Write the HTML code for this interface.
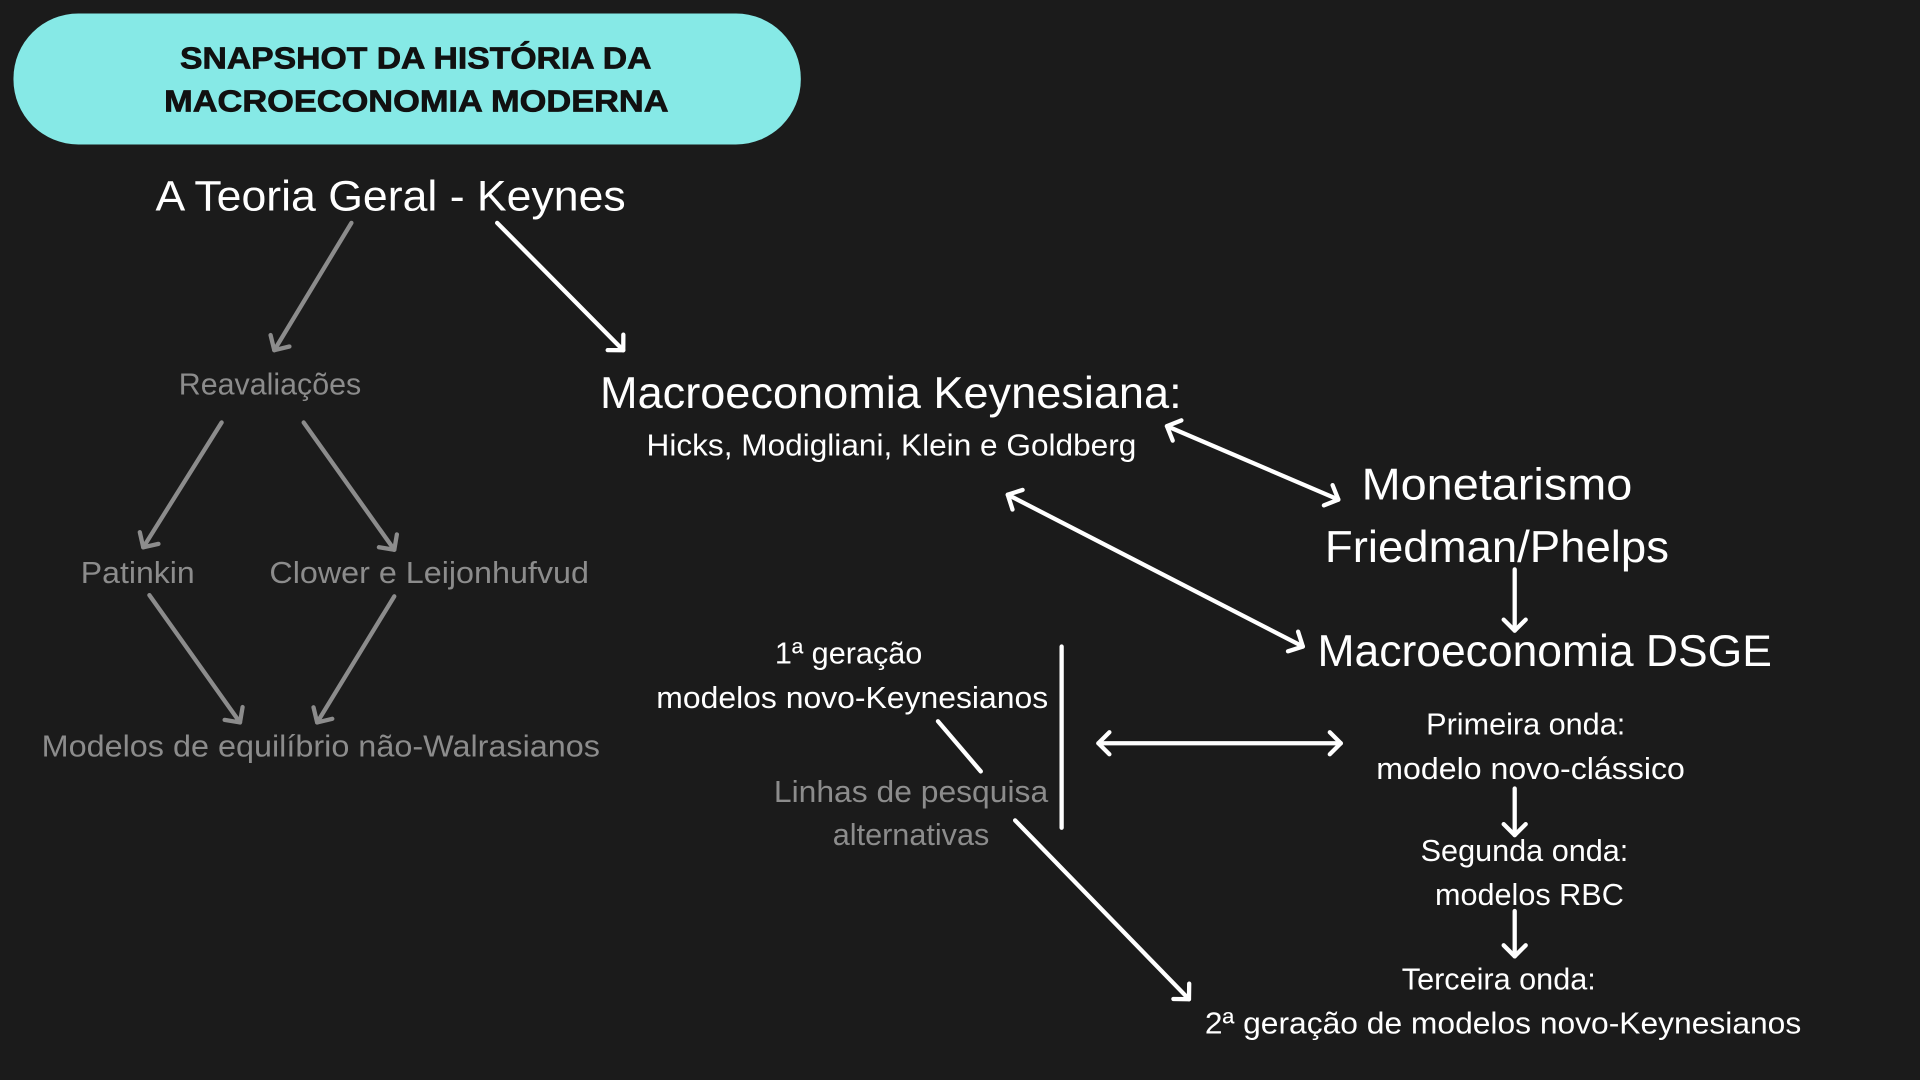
<!DOCTYPE html>
<html><head><meta charset="utf-8"><style>
html,body{margin:0;padding:0;background:#1b1b1b;width:1920px;height:1080px;overflow:hidden}
svg{display:block}
text{font-family:"Liberation Sans",sans-serif}
.w{fill:#fff}.g{fill:#8c8c8c}
</style></head><body>
<svg width="1920" height="1080" viewBox="0 0 1568 882" preserveAspectRatio="none">
<defs>
<marker id="aw" markerUnits="userSpaceOnUse" markerWidth="24" markerHeight="24" refX="12" refY="12" orient="auto-start-reverse" viewBox="0 0 24 24"><path d="M3,3 L12,12 L3,21" fill="none" stroke="#fff" stroke-width="3.5" stroke-linecap="round" stroke-linejoin="round"/></marker>
<marker id="ag" markerUnits="userSpaceOnUse" markerWidth="24" markerHeight="24" refX="12" refY="12" orient="auto" viewBox="0 0 24 24"><path d="M3,3 L12,12 L3,21" fill="none" stroke="#8c8c8c" stroke-width="3.5" stroke-linecap="round" stroke-linejoin="round"/></marker>
</defs>
<rect x="0" y="0" width="1568" height="882" fill="#1b1b1b"/>
<rect x="11" y="11" width="643" height="107" rx="53" fill="#86e9e6"/>
<text x="147" y="56" font-size="25" font-weight="bold" fill="#111" stroke="#111" stroke-width="0.6" textLength="385" lengthAdjust="spacingAndGlyphs">SNAPSHOT DA HISTÓRIA DA</text>
<text x="134" y="91" font-size="25" font-weight="bold" fill="#111" stroke="#111" stroke-width="0.6" textLength="412" lengthAdjust="spacingAndGlyphs">MACROECONOMIA MODERNA</text>

<text x="127" y="172" font-size="35" class="w" textLength="384" lengthAdjust="spacingAndGlyphs">A Teoria Geral - Keynes</text>
<text x="146" y="322" font-size="25" class="g" textLength="149" lengthAdjust="spacingAndGlyphs">Reavaliações</text>
<text x="66" y="476" font-size="25" class="g" textLength="93" lengthAdjust="spacingAndGlyphs">Patinkin</text>
<text x="220" y="476" font-size="25" class="g" textLength="261" lengthAdjust="spacingAndGlyphs">Clower e Leijonhufvud</text>
<text x="34" y="618" font-size="25" class="g" textLength="456" lengthAdjust="spacingAndGlyphs">Modelos de equilíbrio não-Walrasianos</text>

<text x="490" y="333" font-size="36" class="w" textLength="475" lengthAdjust="spacingAndGlyphs">Macroeconomia Keynesiana:</text>
<text x="528" y="372" font-size="25" class="w" textLength="400" lengthAdjust="spacingAndGlyphs">Hicks, Modigliani, Klein e Goldberg</text>
<text x="1112" y="408" font-size="36" class="w" textLength="221" lengthAdjust="spacingAndGlyphs">Monetarismo</text>
<text x="1082" y="459" font-size="36" class="w" textLength="281" lengthAdjust="spacingAndGlyphs">Friedman/Phelps</text>
<text x="1076" y="544" font-size="36" class="w" textLength="371" lengthAdjust="spacingAndGlyphs">Macroeconomia DSGE</text>
<text x="1246" y="600" text-anchor="middle" font-size="25" class="w">Primeira onda:</text>
<text x="1124" y="636" font-size="25" class="w" textLength="252" lengthAdjust="spacingAndGlyphs">modelo novo-clássico</text>
<text x="1245" y="703" text-anchor="middle" font-size="25" class="w">Segunda onda:</text>
<text x="1249" y="739" text-anchor="middle" font-size="25" class="w">modelos RBC</text>
<text x="1224" y="808" text-anchor="middle" font-size="25" class="w">Terceira onda:</text>
<text x="984" y="844" font-size="25" class="w" textLength="487" lengthAdjust="spacingAndGlyphs">2ª geração de modelos novo-Keynesianos</text>
<text x="693" y="542" text-anchor="middle" font-size="25" class="w">1ª geração</text>
<text x="536" y="578" font-size="25" class="w" textLength="320" lengthAdjust="spacingAndGlyphs">modelos novo-Keynesianos</text>
<text x="632" y="655" font-size="25" class="g" textLength="224" lengthAdjust="spacingAndGlyphs">Linhas de pesquisa</text>
<text x="744" y="690" text-anchor="middle" font-size="25" class="g">alternativas</text>

<g stroke="#8c8c8c" stroke-width="3.5" stroke-linecap="round">
<line x1="287" y1="182" x2="224" y2="286" marker-end="url(#ag)"/>
<line x1="181" y1="345" x2="117" y2="447" marker-end="url(#ag)"/>
<line x1="248" y1="345" x2="322" y2="449" marker-end="url(#ag)"/>
<line x1="122" y1="486" x2="196" y2="590" marker-end="url(#ag)"/>
<line x1="322" y1="487" x2="259" y2="590" marker-end="url(#ag)"/>
</g>
<g stroke="#fff" stroke-width="3.5" stroke-linecap="round">
<line x1="406" y1="182" x2="509" y2="286" marker-end="url(#aw)"/>
<line x1="953" y1="348" x2="1093" y2="408" marker-start="url(#aw)" marker-end="url(#aw)"/>
<line x1="823" y1="404" x2="1064" y2="528" marker-start="url(#aw)" marker-end="url(#aw)"/>
<line x1="1237" y1="465" x2="1237" y2="515" marker-end="url(#aw)"/>
<line x1="897" y1="607" x2="1095" y2="607" marker-start="url(#aw)" marker-end="url(#aw)"/>
<line x1="1237" y1="644" x2="1237" y2="682" marker-end="url(#aw)"/>
<line x1="1237" y1="744" x2="1237" y2="781" marker-end="url(#aw)"/>
<line x1="867" y1="528" x2="867" y2="676"/>
<line x1="766" y1="589" x2="801" y2="630"/>
<line x1="829" y1="670" x2="971" y2="816" marker-end="url(#aw)"/>
</g>
</svg>
</body></html>
